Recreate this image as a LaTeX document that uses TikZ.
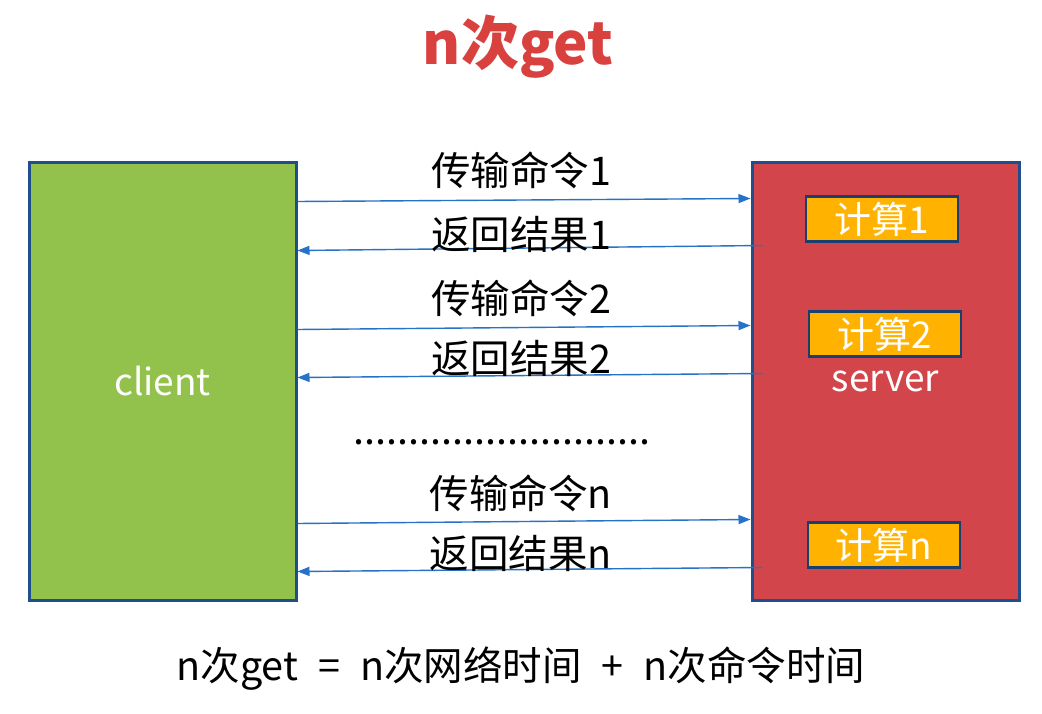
\documentclass[tikz,border=0pt]{standalone}
\usepackage{fontspec}
\setmainfont{Noto Sans CJK SC}
\usetikzlibrary{arrows.meta}
\definecolor{cgreen}{HTML}{92C24C}
\definecolor{cred}{HTML}{D2464B}
\definecolor{cborder}{HTML}{1F4E8C}
\definecolor{corange}{HTML}{FFB300}
\definecolor{carrow}{HTML}{2672C9}
\definecolor{ctitle}{HTML}{D9413F}
\tikzset{
  bigbox/.style={draw=cborder, line width=3pt, minimum width=267pt, minimum height=437pt, inner sep=0pt, text=white, font=\fontsize{37}{40}\selectfont},
  calcbox/.style={draw=cborder!80!black, line width=2.5pt, fill=corange, minimum width=152pt, minimum height=45pt, inner sep=0pt, text=white, font=\fontsize{37}{38}\selectfont},
  arr/.style={draw=carrow, line width=1.4pt, -{Triangle[length=12pt,width=9pt]}},
  lbl/.style={font=\fontsize{39.5}{42}\selectfont, text=black, inner sep=0pt}
}
\begin{document}
\begin{tikzpicture}[x=1pt,y=-1pt]
\useasboundingbox[fill=white] (0,0) rectangle (1042,714);
\node[lbl, text=ctitle, font=\fontsize{58}{62}\selectfont\bfseries] (title) at (518,47) {n次get};
\node[bigbox, fill=cgreen] (client) at (162.5,381.5) {client};
\node[bigbox, fill=cred] (server) at (885.5,381.5) {server};
\node[calcbox] (c1) at (882,219) {计算1};
\node[calcbox] (c2) at (885,334) {计算2};
\node[calcbox] (cn) at (884,545) {计算n};
% arrows
\draw[arr] ([yshift=-40pt]client.north east) -- ([yshift=-37pt]server.north west);
\draw[arr] ([xshift=12pt,yshift=-84pt]server.north west) -- ([yshift=-89pt]client.north east);
\draw[arr] ([yshift=-168pt]client.north east) -- ([yshift=-164pt]server.north west);
\draw[arr] ([xshift=12pt,yshift=-212pt]server.north west) -- ([yshift=-216pt]client.north east);
\draw[arr] ([yshift=-362pt]client.north east) -- ([yshift=-358pt]server.north west);
\draw[arr] ([xshift=12pt,yshift=-406pt]server.north west) -- ([yshift=-410pt]client.north east);
% labels
\node[lbl] (l1) at (521,170) {传输命令1};
\node[lbl] (r1) at (521,234) {返回结果1};
\node[lbl] (l2) at (521,298) {传输命令2};
\node[lbl] (r2) at (521,358) {返回结果2};
\node[lbl, anchor=base] (dots) at (502,444) {...........................};
\node[lbl] (ln) at (521,493) {传输命令n};
\node[lbl] (rn) at (521,553) {返回结果n};
\node[lbl] (bottom) at (521,669) {n次get\hspace{20pt}=\hspace{20pt}n次网络时间\hspace{20pt}+\hspace{20pt}n次命令时间};
\end{tikzpicture}
\end{document}
